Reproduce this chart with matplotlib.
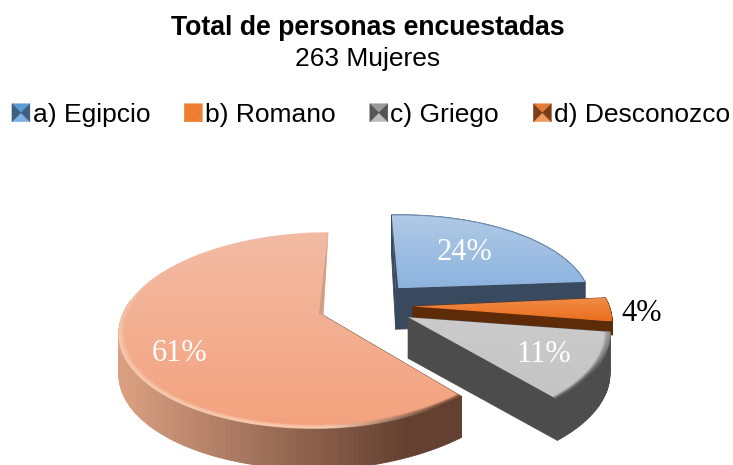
import numpy as np
import matplotlib
matplotlib.use("Agg")
import matplotlib.pyplot as plt
from matplotlib.collections import PolyCollection, LineCollection
from matplotlib.colors import to_rgb
from matplotlib.legend_handler import HandlerBase
from matplotlib.patches import Polygon, Patch

plt.rcParams['font.family'] = ['Liberation Sans', 'DejaVu Sans']

# ---- data -------------------------------------------------------------
title = "Total de personas encuestadas"
subtitle = "263 Mujeres"
legend_labels = ["a) Egipcio", "b) Romano", "c) Griego", "d) Desconozco"]
slice_names = ["a", "d", "c", "b"]
slice_values = [24, 4, 11, 61]
slice_labels = ["24%", "4%", "11%", "61%"]

# ---- geometry of the tilted, exploded pie (pixel-scale axes) -------------
CX, CY, R, RC, K = 365.5, 307, 197, 93, 0.16
EXPLODE, START, SHEAR = 0.23, 0.0, 0.02
DEPTHS = {"a": 41, "d": 13.5, "c": 41, "b": 41}
APEX_NUDGE = {"a": (0, -3), "d": (2, -1), "c": (3, 0), "b": (1, 1)}


def project(u, v):
    s = 1 / (1 - K * v)
    x = CX + R * u * s
    y = CY + RC * v * s - SHEAR * max(x - CX, 0)
    return x, y


def point(theta, r, off):
    a = np.radians(theta)
    return project(off[0] + r * np.sin(a), off[1] - r * np.cos(a))


styles = {
    "a": dict(top0="#b0cae6", top1="#8db3de", side0="#3a4a5e", side1="#3a4a5e"),
    "d": dict(top0="#f18c48", top1="#ea6f1e", side0="#5e2b08", side1="#5e2b08"),
    "c": dict(top0="#cbcbcb", top1="#c4c4c4", side0="#565656", side1="#4c4c4c"),
    "b": dict(top0="#f2bba4", top1="#f4a27e", side0="#dca182", side1="#634030"),
}

fig = plt.figure(figsize=(7.33, 4.65), dpi=100)
ax = fig.add_axes([0, 0, 1, 1])
ax.set_xlim(0, 733)
ax.set_ylim(465, 0)
ax.axis("off")


def mix(c0, c1, t):
    c0, c1 = np.array(to_rgb(c0)), np.array(to_rgb(c1))
    return tuple(c0 + (c1 - c0) * float(np.clip(t, 0, 1)))


z = 10
angle = START
for name, value in zip(slice_names, slice_values):
    st = styles[name]
    sweep = value * 3.6
    depth = DEPTHS[name]
    # drawn clockwise from the top, all slices pulled out along their bisector
    mid = np.radians(angle + sweep / 2)
    off = (EXPLODE * np.sin(mid), -EXPLODE * np.cos(mid))
    thetas = np.linspace(angle, angle + sweep, max(int(sweep), 8) + 1)
    arc = np.array([point(t, 1.0, off) for t in thetas])
    apex = np.array(project(*off)) + np.array(APEX_NUDGE[name])
    outline = np.vstack([apex, arc])

    # extruded walls (the large slice's back walls stay hidden)
    quads, cols = [], []
    closed = outline if name == "b" else np.vstack([outline, outline[:1]])
    for p, q in zip(closed[:-1], closed[1:]):
        if name == "b" and (p[1] + q[1]) / 2 < 300:
            continue
        quads.append([p, q, q + [0, depth], p + [0, depth]])
        xm = (p[0] + q[0]) / 2
        cols.append(mix(st["side0"], st["side1"], (xm - 118) / (405 - 118)))
    order = np.argsort([np.mean(np.array(qd)[:, 1]) for qd in quads])
    walls = PolyCollection([quads[i] for i in order],
                           facecolors=[cols[i] for i in order],
                           edgecolors=[cols[i] for i in order],
                           linewidths=0.6, zorder=z)
    ax.add_collection(walls)

    # top face with a vertical gradient
    face = Polygon(outline, closed=True, facecolor="none", edgecolor="none",
                   transform=ax.transData, zorder=z + 1)
    ax.add_patch(face)
    x0, x1 = outline[:, 0].min(), outline[:, 0].max()
    y0, y1 = outline[:, 1].min(), outline[:, 1].max()
    grad = np.array([mix(st["top0"], st["top1"], t)
                     for t in np.linspace(0, 1, 128)])[:, None, :]
    im = ax.imshow(grad, extent=[x0, x1, y1, y0], aspect="auto",
                   interpolation="bilinear", zorder=z + 1)
    im.set_clip_path(face)

    # bevel along the rim
    rings = 7 if name in ("b", "c") else 0
    for i in range(rings):
        frac = i / rings
        pts = np.array([point(t, 1.0 - 0.028 * frac, off) for t in thetas])
        segs = np.stack([pts[:-1], pts[1:]], axis=1)
        rgba = []
        for p in segs.mean(axis=1):
            if name == "b":
                rim = mix("#fad0b6", "#5a3a2b", (p[0] - 330) / (440 - 330))
                strength = np.clip((p[1] - 270) / 70, 0.0, 1.0)
                alpha = (1 - frac) * 0.7 * strength
            else:
                rim = mix("#8a8a8a", "#4c4c4c", (p[1] - 335) / 40)
                alpha = (1 - frac) * 0.95
            rgba.append((*rim, alpha))
        lc = LineCollection(segs, colors=rgba, linewidths=1.1, zorder=z + 2)
        ax.add_collection(lc)

    # thin inner edge slivers beside the back radial edge
    if name == "b":
        ax.add_patch(Polygon([arc[-1], apex, apex + [-4.5, -1]],
                             closed=True, facecolor="#cf9f87", edgecolor="none",
                             zorder=z + 2))
    if name == "a":
        ax.add_patch(Polygon([arc[0], apex, apex + [2.5, 0]], closed=True,
                             facecolor="#3a4a5e", edgecolor="none", zorder=z + 2))
        ax.add_collection(LineCollection(
            np.stack([arc[:-1], arc[1:]], axis=1),
            colors="#6f8fb5", linewidths=0.8, zorder=z + 2))
    z += 5
    angle += sweep

# ---- value labels ------------------------------------------------------
label_style = dict(family=["Liberation Serif", "DejaVu Serif"], fontsize=22,
                   ha="center", va="center", zorder=60)
label_pos = dict(zip(slice_labels, [(464, 252), (642, 313), (544, 354), (180, 353)]))
for lab in slice_labels:
    ax.text(*label_pos[lab], lab, color="black" if lab == "4%" else "white",
            **label_style)

# ---- titles ------------------------------------------------------------
ax.text(367.5, 28, title, ha="center", va="center", fontsize=19.2, fontweight="bold",
        color="black")
ax.text(367.5, 59, subtitle, ha="center", va="center", fontsize=19, color="black")


# ---- legend ------------------------------------------------------------
class BevelHandler(HandlerBase):
    def __init__(self, outer_top, outer_bottom, sides):
        super().__init__()
        self.c = (outer_top, outer_bottom, sides)

    def create_artists(self, legend, orig, xd, yd, w, h, fs, trans):
        size = 18 / 100 * 72
        x0, y0 = -xd, -yd + (h - size) / 2
        x1, y1 = x0 + size, y0 + size
        mx, my = x0 + size / 2, y0 + size / 2
        top, bottom, sides = self.c
        tris = [([(x0, y1), (x1, y1), (mx, my)], top),
                ([(x0, y0), (x1, y0), (mx, my)], bottom),
                ([(x0, y0), (x0, y1), (mx, my)], sides),
                ([(x1, y0), (x1, y1), (mx, my)], sides)]
        out = []
        for pts, col in tris:
            out.append(Polygon(pts, closed=True, facecolor=col, edgecolor=col,
                               linewidth=0.3, transform=trans))
        return out


handles = [Patch(label=l) for l in legend_labels]
handler_map = {
    handles[0]: BevelHandler("#5b9bd5", "#7eb1e2", "#3f5f80"),
    handles[1]: BevelHandler("#ed7d31", "#ed7d31", "#ed7d31"),
    handles[2]: BevelHandler("#9a9a9a", "#bdbdbd", "#555555"),
    handles[3]: BevelHandler("#e57c36", "#f09a5e", "#7a3f16"),
}
ax.legend(handles=handles, handler_map=handler_map, ncols=4, frameon=False,
          loc="center", bbox_to_anchor=(371, 115), bbox_transform=ax.transData,
          fontsize=19, borderpad=0, borderaxespad=0, handlelength=0.68,
          handleheight=0.68, handletextpad=0.1, columnspacing=1.3, labelspacing=0)

fig.savefig("out.png", dpi=100, facecolor="white")
